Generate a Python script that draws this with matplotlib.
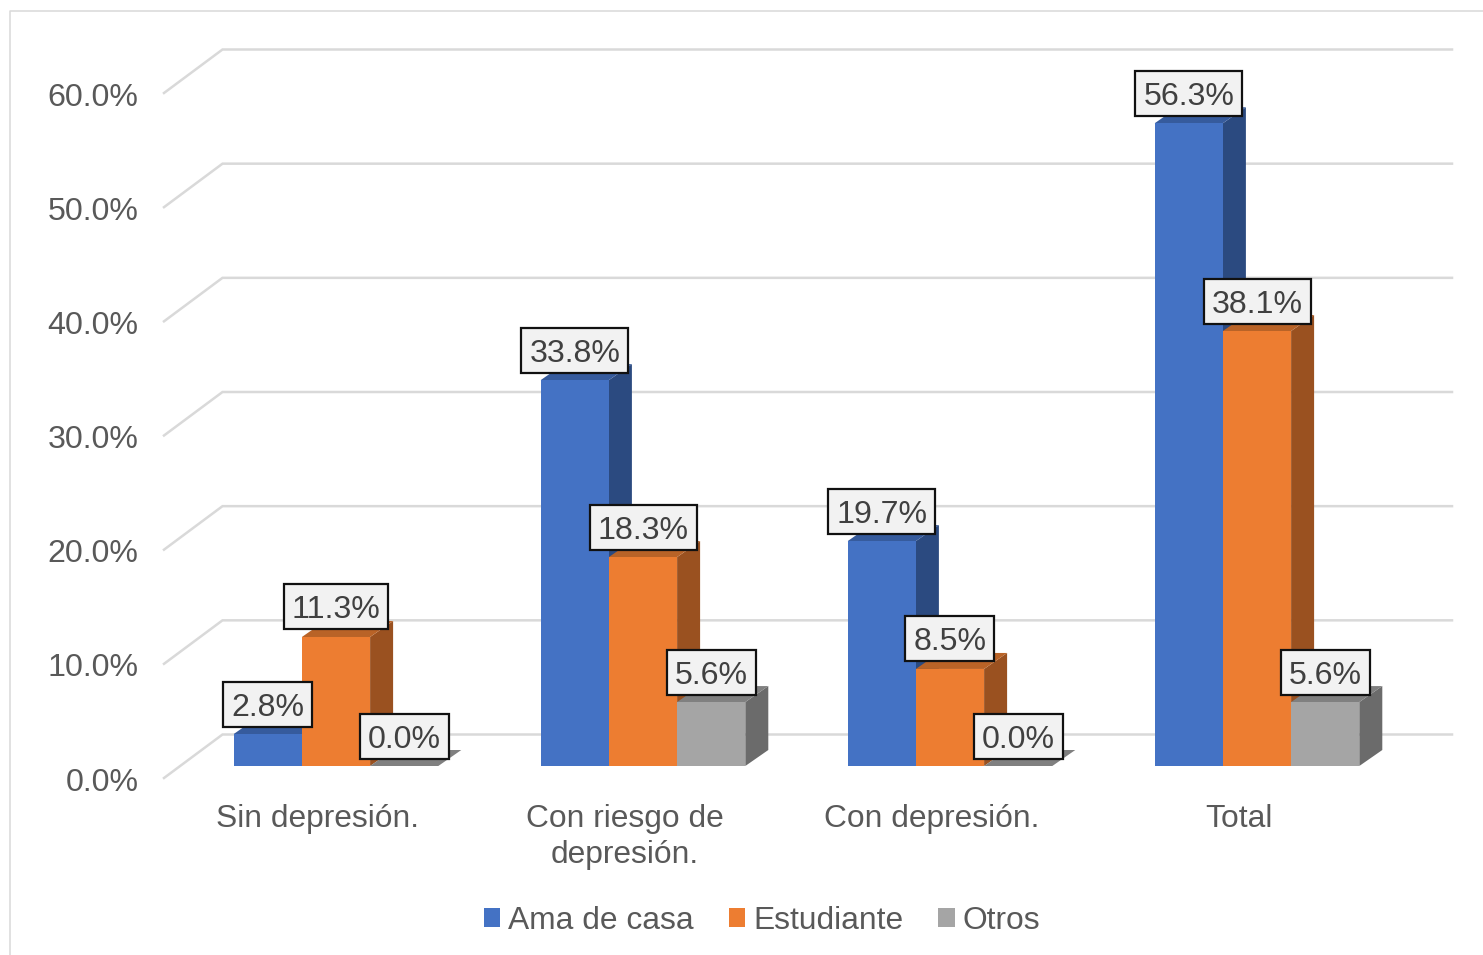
import matplotlib
matplotlib.use("Agg")
import matplotlib.pyplot as plt
from matplotlib.lines import Line2D
from matplotlib.patches import Patch, Rectangle
from matplotlib.transforms import ScaledTranslation

categories = ["Sin depresión.", "Con riesgo de\ndepresión.", "Con depresión.", "Total"]
series_names = ["Ama de casa", "Estudiante", "Otros"]
ama_de_casa = [2.8, 33.8, 19.7, 56.3]
estudiante = [11.3, 18.3, 8.5, 38.1]
otros = [0.0, 5.6, 0.0, 5.6]
y_ticks = [0, 10, 20, 30, 40, 50, 60]
series_values = [ama_de_casa, estudiante, otros]

front_colors = ["#4472C4", "#ED7D31", "#A5A5A5"]
side_colors = ["#2B4A80", "#9A5120", "#6B6B6B"]
top_colors = ["#365B9D", "#B96327", "#808080"]

W, H = 1483, 955
plt.rcParams["font.family"] = ["Liberation Sans", "DejaVu Sans"]
FS = 23.1
FS_TXT = 22.9

fig = plt.figure(figsize=(W / 100, H / 100), dpi=100)
L, R, T, B = 164, 1392, 93, 778
ax = fig.add_axes([L / W, 1 - B / H, (R - L) / W, (B - T) / H])
ax.set_xlim(-0.5, 3.5)
ax.set_ylim(0, 60)
ax.patch.set_alpha(0)
for s in ax.spines.values():
    s.set_visible(False)

px = (R - L) / 4
py = (B - T) / 60
wall_dx, wall_dy = 58.5 / px, 43.5 / py
base_dx, base_dy = 18.5 / px, 12 / py
depth_dx, depth_dy = 23 / px, 16 / py
bw = 68.2 / px
grid_end = 3.5 + 60 / px

# walls / gridlines
for v in y_ticks:
    ax.plot([-0.5, -0.5 + wall_dx, grid_end], [v, v + wall_dy, v + wall_dy],
            color="#D9D9D9", lw=1.8, clip_on=False, zorder=1, solid_joinstyle="miter")

for i, values in enumerate(series_values):
    xs = [c + base_dx + (i - 1) * bw for c in range(len(categories))]
    z = 3 + i
    for x, v in zip(xs, values):
        top = v + base_dy
        xr = x + bw / 2
        xl = x - bw / 2
        ax.fill([xr, xr + depth_dx, xr + depth_dx, xr],
                [base_dy, base_dy + depth_dy, top + depth_dy, top],
                color=side_colors[i], lw=0, clip_on=False, zorder=z)
        ax.fill([xl, xr, xr + depth_dx, xl + depth_dx],
                [top, top, top + depth_dy, top + depth_dy],
                color=top_colors[i], lw=0, clip_on=False, zorder=z)
    bars = ax.bar(xs, values, width=bw, bottom=base_dy, color=front_colors[i],
                  linewidth=0, zorder=z + 0.5)
    for b in bars:
        b.set_clip_on(False)

renderer = fig.canvas.get_renderer()
for i, values in enumerate(series_values):
    for c, v in enumerate(values):
        x = c + base_dx + (i - 1) * bw
        yc = v + base_dy + 30 / py
        t = ax.text(x, yc - 3.5 / py, f"{v:.1f}%", ha="center", va="center",
                    fontsize=FS, color="#404040", zorder=10, clip_on=False)
        tw = t.get_window_extent(renderer).width + 16
        ax.add_patch(Rectangle((x - tw / 2 / px, yc - 22.5 / py), tw / px, 45 / py,
                               fc="#F2F2F2", ec="#111111", lw=1.6, zorder=9, clip_on=False))

ax.set_yticks(y_ticks)
ax.set_yticklabels([f"{v:.1f}%" for v in y_ticks], fontsize=FS, color="#595959")
ax.set_xticks(range(len(categories)))
ax.set_xticklabels(categories, fontsize=FS_TXT, color="#595959")
ax.tick_params(axis="y", length=0, pad=18.5)
ax.tick_params(axis="x", length=0, pad=19)
for lab in ax.get_xticklabels():
    lab.set_linespacing(1.25)
shift = ScaledTranslation(0, -1 / 100, fig.dpi_scale_trans)
for lab in ax.get_yticklabels():
    lab.set_transform(lab.get_transform() + shift)

handles = [Patch(facecolor=c, edgecolor="none", label=n) for c, n in zip(front_colors, series_names)]
fig.legend(handles=handles, loc="center", bbox_to_anchor=(762 / W, 1 - 921 / H), ncol=3,
           frameon=False, fontsize=FS_TXT, labelcolor="#595959", handlelength=0.52, handleheight=0.52,
           handletextpad=0.25, columnspacing=1.1, borderpad=0, borderaxespad=0)

# chart frame
fig.add_artist(Line2D([10 / W, 10 / W, 1], [0, 1 - 11 / H, 1 - 11 / H], color="#D9D9D9", lw=1.1,
                      transform=fig.transFigure))

fig.savefig("out.png", dpi=100)
